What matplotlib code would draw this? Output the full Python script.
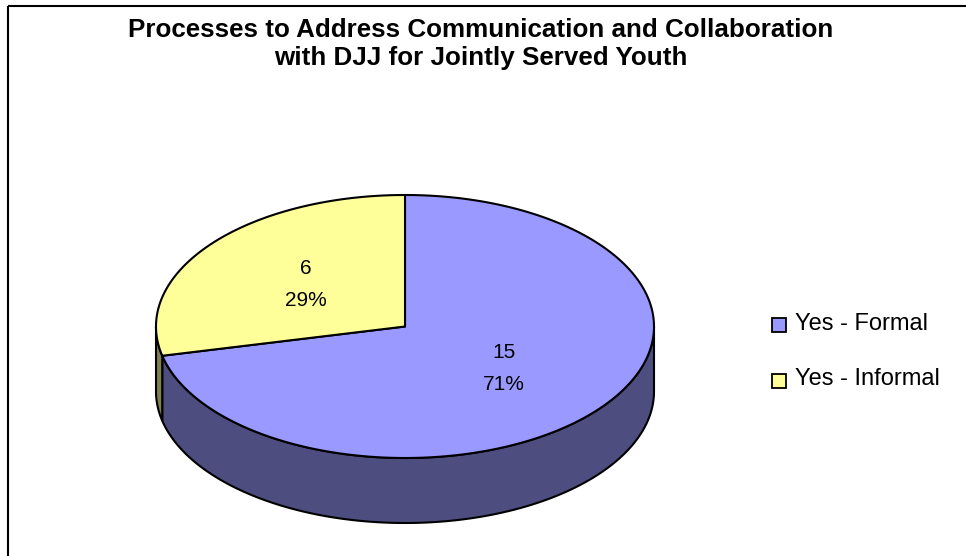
import numpy as np
import matplotlib
matplotlib.use("Agg")
import matplotlib.pyplot as plt
from matplotlib.patches import Polygon, Rectangle

# ---- data ----
categories = ["Yes - Formal", "Yes - Informal"]
values = [15, 6]
title_lines = ["Processes to Address Communication and Collaboration",
               "with DJJ for Jointly Served Youth"]

# ---- style ----
top_colors = ["#9999FF", "#FFFF99"]
side_colors = ["#4D4D80", "#80804D"]
W, H = 966, 556
cx, cy, rx, ry, depth = 405, 326.5, 249, 131.5, 65

plt.rcParams['font.family'] = ['Liberation Sans', 'DejaVu Sans']
fig = plt.figure(figsize=(W / 100, H / 100), dpi=100)
ax = fig.add_axes([0, 0, 1, 1])
ax.set_xlim(0, W)
ax.set_ylim(H, 0)
ax.axis('off')

# frame
ax.add_patch(Rectangle((8, 6), W + 10, H + 10, fill=False, edgecolor='black', lw=1.5, zorder=0))


def pt(theta_deg, dz=0.0, r=1.0):
    t = np.deg2rad(theta_deg)
    return cx + r * rx * np.cos(t), cy - r * ry * np.sin(t) + dz


total = float(sum(values))
# Excel style: start at 12 o'clock, go clockwise
angles = []
start = 90.0
for v in values:
    sweep = 360.0 * v / total
    angles.append((start - sweep, start))  # (theta1, theta2) counterclockwise range
    start -= sweep

# side faces (front visible half: theta in [180, 360])
for (t1, t2), sc in zip(angles, side_colors):
    for off in (0, 360, -360):
        a = max(t1 + off, 180.0)
        b = min(t2 + off, 360.0)
        if b > a:
            th = np.linspace(a, b, 200)
            topx, topy = pt(th)
            botx, boty = pt(th[::-1], depth)
            xs = np.concatenate([topx, botx])
            ys = np.concatenate([topy, boty])
            ax.add_patch(Polygon(np.column_stack([xs, ys]), closed=True,
                                 facecolor=sc, edgecolor='black', lw=1.5,
                                 joinstyle='round', zorder=1))

# top faces
for (t1, t2), tc in zip(angles, top_colors):
    th = np.linspace(t1, t2, 400)
    xs, ys = pt(th)
    xs = np.concatenate([[cx], xs])
    ys = np.concatenate([[cy], ys])
    ax.add_patch(Polygon(np.column_stack([xs, ys]), closed=True,
                         facecolor=tc, edgecolor='black', lw=1.5,
                         joinstyle='round', zorder=2))

# data labels
for (t1, t2), v in zip(angles, values):
    mid = (t1 + t2) / 2
    lx, ly = pt(mid, r=0.51)
    pct = round(100 * v / total)
    ax.text(lx, ly - 16, f"{v}", ha='center', va='center', fontsize=15, zorder=3)
    ax.text(lx, ly + 16, f"{pct}%", ha='center', va='center', fontsize=15, zorder=3)

# title
ax.text(481, 30, title_lines[0], ha='center', va='center',
        fontsize=18.7, fontweight='bold')
ax.text(481, 58, title_lines[1], ha='center', va='center',
        fontsize=18.7, fontweight='bold')

# legend
leg_y = [325, 380.5]
for cat, col, yy in zip(categories, top_colors, leg_y):
    ax.add_patch(Rectangle((772, yy - 7), 14, 14, facecolor=col,
                           edgecolor='black', lw=1.3, zorder=3))
    ax.text(795, yy - 1.5, cat, ha='left', va='center', fontsize=17)

fig.savefig("out.png", dpi=100)
